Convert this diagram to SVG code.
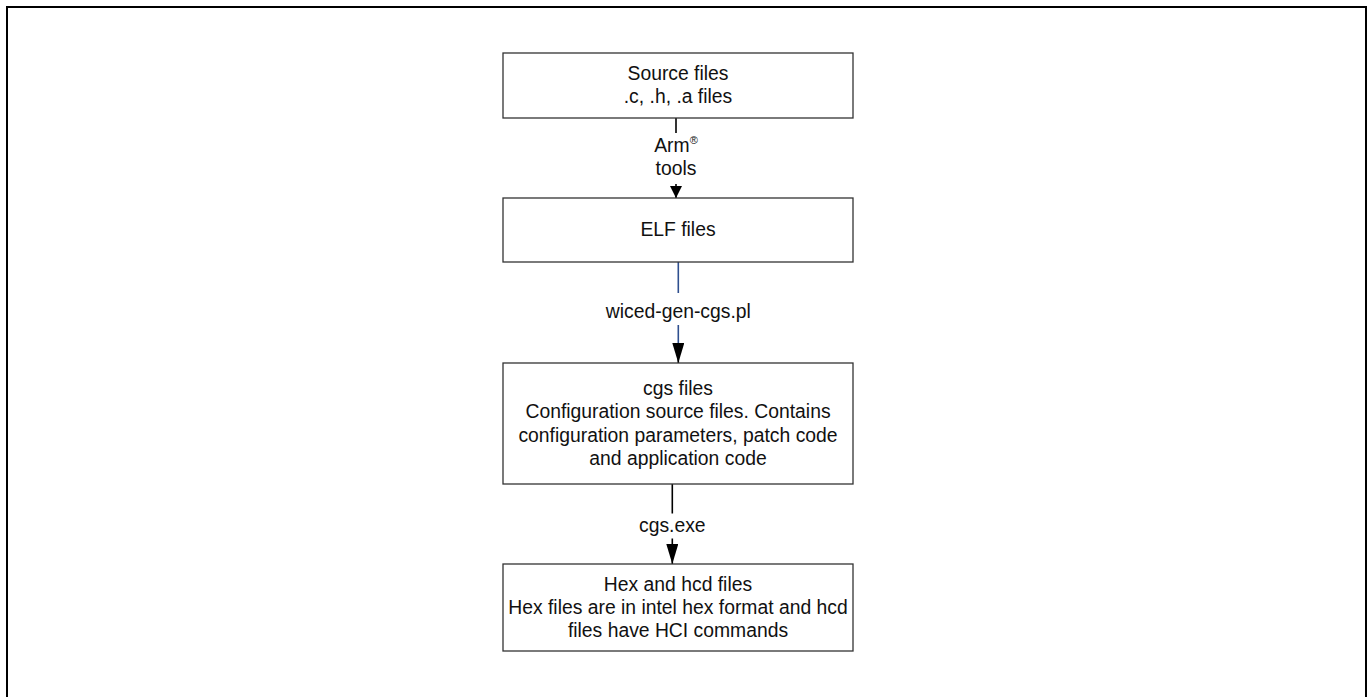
<svg xmlns="http://www.w3.org/2000/svg" width="1368" height="697" viewBox="0 0 1368 697">
<defs>
<style>
.box{fill:#ffffff;stroke:#333333;stroke-width:1.3}
.t{font-family:"Liberation Sans",Arial,sans-serif;font-size:19.33px;fill:#111111;text-anchor:middle}
.c{fill:none;stroke:#000000;stroke-width:1.6}
.cb{fill:none;stroke:#2F4F8F;stroke-width:1.6}
.lb{fill:#ffffff;stroke:none}
</style>
<marker id="ah" viewBox="0 0 12 16" refX="12" refY="8" markerWidth="12" markerHeight="16" markerUnits="userSpaceOnUse" orient="auto">
<path d="M0,2 L12,8 L0,14 Z" fill="#000000"/>
</marker>
<marker id="ah2" viewBox="0 0 20 12" refX="20" refY="6" markerWidth="20" markerHeight="12" markerUnits="userSpaceOnUse" orient="auto">
<path d="M0,0 L20,6 L0,12 Z" fill="#000000"/>
</marker>
</defs>
<rect x="0" y="0" width="1368" height="697" fill="#ffffff"/>
<rect x="7" y="7" width="1359" height="700" fill="none" stroke="#000000" stroke-width="2"/>

<g id="connectors">
<g id="c1">
<path class="c" d="M676,118 L676,198" marker-end="url(#ah)"/>
<rect class="lb" x="648" y="133" width="56" height="51"/>
<text class="t" x="676" y="151.7">Arm<tspan font-size="11" dy="-7.5">®</tspan></text>
<text class="t" x="676" y="175">tools</text>
</g>
<g id="c2">
<path class="cb" d="M678.3,262 L678.3,352"/>
<path class="c" d="M678.3,350 L678.3,363" marker-end="url(#ah2)" stroke="none"/>
<rect class="lb" x="600" y="293" width="156" height="32"/>
<text class="t" x="678.3" y="318.3">wiced-gen-cgs.pl</text>
</g>
<g id="c3">
<path class="c" d="M672.3,484 L672.3,564" marker-end="url(#ah2)"/>
<rect class="lb" x="634" y="513.5" width="76" height="25"/>
<text class="t" x="672.3" y="531.7">cgs.exe</text>
</g>
</g>

<g id="source">
<rect class="box" x="503" y="53" width="350" height="65"/>
<text class="t" x="678" y="79.5">Source files</text>
<text class="t" x="678" y="103.3">.c, .h, .a files</text>
</g>
<g id="elf">
<rect class="box" x="503" y="198" width="350" height="64"/>
<text class="t" x="678" y="235.8">ELF files</text>
</g>
<g id="cgs">
<rect class="box" x="503" y="363" width="350" height="121"/>
<text class="t" x="678" y="395">cgs files</text>
<text class="t" x="678" y="418.3">Configuration source files. Contains</text>
<text class="t" x="678" y="441.7">configuration parameters, patch code</text>
<text class="t" x="678" y="465">and application code</text>
</g>
<g id="hex">
<rect class="box" x="503" y="564" width="350" height="87"/>
<text class="t" x="678" y="590.7">Hex and hcd files</text>
<text class="t" x="678" y="614">Hex files are in intel hex format and hcd</text>
<text class="t" x="678" y="637.3">files have HCI commands</text>
</g>
</svg>
